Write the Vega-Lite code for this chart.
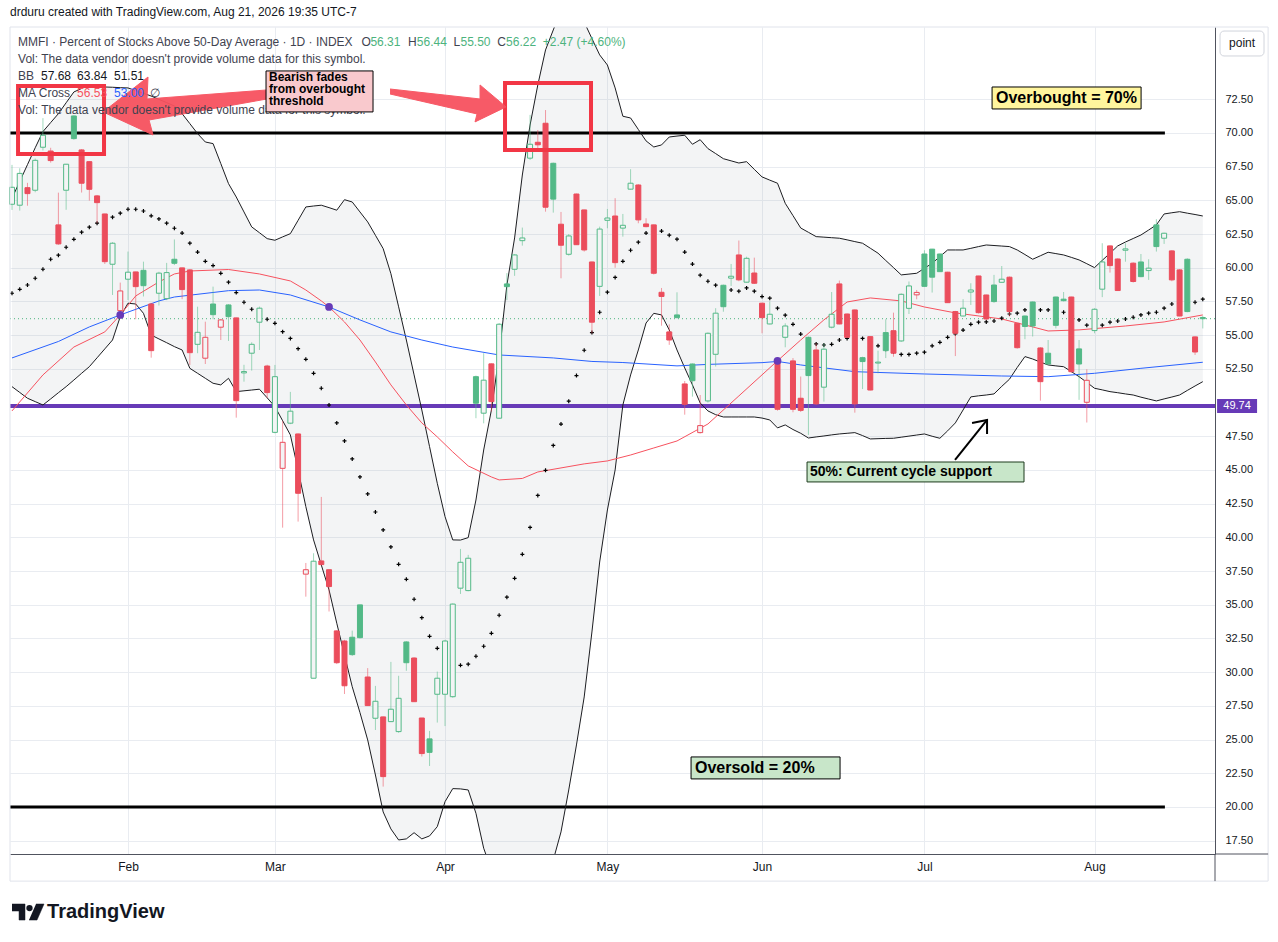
{
"$schema": "https://vega.github.io/schema/vega-lite/v6.json",
"width": 1205, "height": 827,
"autosize": {"type": "none"},
"padding": {"left": 10, "top": 27, "right": 63, "bottom": 88},
"background": "white",
"config": {"view": {"stroke": null}, "font": "Liberation Sans", "axis": {"titleOpacity": 0, "labelOverlap": false}, "scale": {"continuousPadding": 0}},
"title": {"text": "drduru created with TradingView.com, Aug 21, 2026 19:35 UTC-7", "anchor": "start", "frame": "group", "offset": 8, "fontSize": 12, "fontWeight": "normal", "color": "#131722", "font": "Liberation Sans"},
"datasets": {
"bars": [
{"i":0,"o":64.71,"h":67.63,"l":64.29,"c":65.97,"bbu":65.16,"bbm":58.11,"bbl":51.18},
{"i":1,"o":64.64,"h":67.38,"l":64.24,"c":67.0,"bbu":66.4,"bbm":58.4,"bbl":50.75},
{"i":2,"o":65.94,"h":66.3,"l":64.6,"c":65.5,"bbu":67.65,"bbm":58.72,"bbl":50.32},
{"i":3,"o":65.75,"h":68.1,"l":65.6,"c":67.97,"bbu":68.9,"bbm":59.22,"bbl":50.07},
{"i":4,"o":68.94,"h":71.1,"l":68.7,"c":69.83,"bbu":70.1,"bbm":59.89,"bbl":49.82},
{"i":5,"o":68.66,"h":68.9,"l":67.8,"c":67.95,"bbu":70.77,"bbm":60.63,"bbl":50.27},
{"i":6,"o":63.18,"h":65.57,"l":61.7,"c":61.77,"bbu":71.43,"bbm":60.93,"bbl":50.73},
{"i":7,"o":65.75,"h":67.7,"l":64.3,"c":67.68,"bbu":72.24,"bbm":61.52,"bbl":51.18},
{"i":8,"o":71.26,"h":71.3,"l":69.5,"c":69.58,"bbu":73.04,"bbm":62.11,"bbl":51.67},
{"i":9,"o":68.74,"h":68.8,"l":65.58,"c":66.27,"bbu":73.3,"bbm":62.64,"bbl":52.17},
{"i":10,"o":67.87,"h":67.9,"l":64.98,"c":65.82,"bbu":73.54,"bbm":63.01,"bbl":52.66},
{"i":11,"o":65.33,"h":65.4,"l":63.3,"c":64.83,"bbu":73.48,"bbm":63.31,"bbl":53.32},
{"i":12,"o":63.99,"h":64.0,"l":60.28,"c":60.45,"bbu":73.41,"bbm":63.55,"bbl":53.98},
{"i":13,"o":60.26,"h":61.9,"l":57.98,"c":61.82,"bbu":73.39,"bbm":63.75,"bbl":54.64},
{"i":14,"o":56.82,"h":58.9,"l":56.4,"c":58.28,"bbu":73.36,"bbm":64.05,"bbl":56.37},
{"i":15,"o":59.15,"h":61.2,"l":57.6,"c":59.67,"bbu":73.34,"bbm":64.34,"bbl":57.37},
{"i":16,"o":59.69,"h":59.7,"l":56.18,"c":58.6,"bbu":73.14,"bbm":64.34,"bbl":57.31},
{"i":17,"o":59.81,"h":60.45,"l":57.87,"c":58.67,"bbu":72.94,"bbm":64.21,"bbl":56.62},
{"i":18,"o":57.31,"h":57.4,"l":53.33,"c":53.85,"bbu":72.74,"bbm":63.85,"bbl":55.01},
{"i":19,"o":58.11,"h":59.7,"l":57.2,"c":59.6,"bbu":72.49,"bbm":63.62,"bbl":54.72},
{"i":20,"o":57.71,"h":60.36,"l":57.6,"c":59.64,"bbu":72.25,"bbm":63.31,"bbl":54.44},
{"i":21,"o":60.63,"h":62.1,"l":60.2,"c":60.33,"bbu":72.0,"bbm":62.93,"bbl":54.15},
{"i":22,"o":59.99,"h":60.0,"l":57.67,"c":58.38,"bbu":71.43,"bbm":62.57,"bbl":53.9},
{"i":23,"o":59.84,"h":59.9,"l":52.79,"c":53.7,"bbu":70.69,"bbm":61.82,"bbl":52.54},
{"i":24,"o":54.32,"h":57.11,"l":53.66,"c":55.21,"bbu":69.95,"bbm":61.16,"bbl":52.17},
{"i":25,"o":53.29,"h":56.0,"l":52.86,"c":54.84,"bbu":69.33,"bbm":60.48,"bbl":51.8},
{"i":26,"o":57.31,"h":58.6,"l":56.18,"c":56.52,"bbu":69.21,"bbm":60.16,"bbl":51.43},
{"i":27,"o":55.59,"h":56.2,"l":54.64,"c":56.13,"bbu":67.73,"bbm":59.59,"bbl":51.31},
{"i":28,"o":57.24,"h":57.3,"l":54.57,"c":56.37,"bbu":66.24,"bbm":58.93,"bbl":51.8},
{"i":29,"o":56.28,"h":56.3,"l":48.88,"c":50.14,"bbu":65.25,"bbm":58.16,"bbl":50.81},
{"i":30,"o":52.2,"h":52.8,"l":51.55,"c":52.3,"bbu":64.14,"bbm":57.44,"bbl":50.87},
{"i":31,"o":53.66,"h":54.47,"l":52.37,"c":54.32,"bbu":63.03,"bbm":56.92,"bbl":50.93},
{"i":32,"o":55.96,"h":57.12,"l":53.9,"c":57.0,"bbu":62.6,"bbm":56.77,"bbl":50.99},
{"i":33,"o":52.71,"h":52.8,"l":50.34,"c":50.74,"bbu":62.16,"bbm":56.18,"bbl":50.35},
{"i":34,"o":47.79,"h":52.79,"l":47.72,"c":51.92,"bbu":62.04,"bbm":55.88,"bbl":49.7},
{"i":35,"o":45.12,"h":48.64,"l":40.72,"c":47.05,"bbu":62.29,"bbm":55.26,"bbl":48.65},
{"i":36,"o":48.47,"h":50.79,"l":48.4,"c":49.36,"bbu":62.53,"bbm":54.76,"bbl":47.6},
{"i":37,"o":47.67,"h":47.7,"l":41.17,"c":43.27,"bbu":63.52,"bbm":54.0,"bbl":45.0},
{"i":38,"o":37.27,"h":38.1,"l":35.6,"c":37.6,"bbu":64.51,"bbm":53.21,"bbl":42.28},
{"i":39,"o":29.55,"h":38.82,"l":29.55,"c":38.23,"bbu":64.58,"bbm":52.17,"bbl":39.81},
{"i":40,"o":38.25,"h":43.0,"l":37.9,"c":37.98,"bbu":64.64,"bbm":51.06,"bbl":37.95},
{"i":41,"o":37.6,"h":37.6,"l":34.5,"c":36.35,"bbu":64.46,"bbm":49.82,"bbl":36.1},
{"i":42,"o":33.06,"h":33.1,"l":30.6,"c":30.7,"bbu":64.27,"bbm":48.49,"bbl":33.63},
{"i":43,"o":32.31,"h":32.4,"l":28.38,"c":28.99,"bbu":65.05,"bbm":47.15,"bbl":31.27},
{"i":44,"o":32.59,"h":33.08,"l":31.2,"c":31.3,"bbu":64.88,"bbm":45.82,"bbl":28.92},
{"i":45,"o":34.99,"h":35.0,"l":32.5,"c":32.56,"bbu":64.14,"bbm":44.48,"bbl":27.0},
{"i":46,"o":29.64,"h":30.3,"l":27.5,"c":27.52,"bbu":63.4,"bbm":43.22,"bbl":24.97},
{"i":47,"o":26.58,"h":28.98,"l":25.71,"c":27.84,"bbu":62.41,"bbm":41.88,"bbl":22.37},
{"i":48,"o":26.68,"h":26.7,"l":21.51,"c":22.25,"bbu":61.42,"bbm":40.55,"bbl":19.63},
{"i":49,"o":26.33,"h":30.76,"l":26.3,"c":27.25,"bbu":59.56,"bbm":39.29,"bbl":18.37},
{"i":50,"o":25.59,"h":29.73,"l":25.5,"c":28.06,"bbu":57.1,"bbm":38.0,"bbl":17.55},
{"i":51,"o":32.24,"h":32.3,"l":30.1,"c":30.7,"bbu":54.64,"bbm":36.89,"bbl":17.63},
{"i":52,"o":31.05,"h":31.1,"l":27.8,"c":27.81,"bbu":52.05,"bbm":35.41,"bbl":18.09},
{"i":53,"o":26.6,"h":26.6,"l":23.74,"c":23.96,"bbu":49.45,"bbm":34.04,"bbl":17.63},
{"i":54,"o":25.05,"h":25.64,"l":23.04,"c":24.05,"bbu":46.73,"bbm":32.66,"bbl":17.85},
{"i":55,"o":28.36,"h":30.04,"l":26.26,"c":29.55,"bbu":44.01,"bbm":31.77,"bbl":18.54},
{"i":56,"o":28.36,"h":32.4,"l":26.0,"c":32.31,"bbu":41.54,"bbm":30.98,"bbl":20.39},
{"i":57,"o":28.18,"h":35.1,"l":28.1,"c":35.05,"bbu":39.81,"bbm":30.51,"bbl":21.36},
{"i":58,"o":36.23,"h":39.14,"l":35.8,"c":38.15,"bbu":39.8,"bbm":30.51,"bbl":21.34},
{"i":59,"o":36.05,"h":38.7,"l":36.0,"c":38.45,"bbu":39.98,"bbm":30.59,"bbl":21.26},
{"i":60,"o":51.92,"h":52.0,"l":48.84,"c":49.95,"bbu":42.77,"bbm":31.18,"bbl":19.53},
{"i":61,"o":49.21,"h":53.66,"l":48.46,"c":51.66,"bbu":46.48,"bbm":31.92,"bbl":16.94},
{"i":62,"o":52.87,"h":52.9,"l":49.33,"c":50.07,"bbu":49.45,"bbm":32.88,"bbl":15.33},
{"i":63,"o":48.84,"h":55.9,"l":48.8,"c":55.81,"bbu":53.53,"bbm":34.22,"bbl":14.2},
{"i":64,"o":58.8,"h":59.6,"l":57.6,"c":58.6,"bbu":58.72,"bbm":35.56,"bbl":13.6},
{"i":65,"o":59.89,"h":61.0,"l":59.4,"c":60.95,"bbu":62.21,"bbm":36.96,"bbl":13.1},
{"i":66,"o":62.01,"h":62.98,"l":61.64,"c":62.21,"bbu":66.88,"bbm":38.74,"bbl":12.9},
{"i":67,"o":68.13,"h":71.34,"l":68.0,"c":69.16,"bbu":70.59,"bbm":40.74,"bbl":12.73},
{"i":68,"o":69.31,"h":70.22,"l":68.87,"c":69.12,"bbu":73.56,"bbm":43.11,"bbl":12.9},
{"i":69,"o":70.72,"h":71.7,"l":64.16,"c":64.49,"bbu":76.16,"bbm":44.97,"bbl":13.47},
{"i":70,"o":67.75,"h":67.8,"l":64.09,"c":65.09,"bbu":77.64,"bbm":46.82,"bbl":16.06},
{"i":71,"o":63.23,"h":64.14,"l":59.22,"c":61.67,"bbu":79.12,"bbm":48.4,"bbl":18.15},
{"i":72,"o":61.0,"h":62.5,"l":60.9,"c":62.36,"bbu":79.72,"bbm":50.1,"bbl":21.26},
{"i":73,"o":65.47,"h":65.5,"l":61.7,"c":61.71,"bbu":79.27,"bbm":52.0,"bbl":24.6},
{"i":74,"o":64.29,"h":64.3,"l":61.2,"c":61.32,"bbu":78.23,"bbm":53.88,"bbl":28.16},
{"i":75,"o":60.43,"h":60.45,"l":55.14,"c":55.96,"bbu":77.0,"bbm":55.19,"bbl":32.98},
{"i":76,"o":58.62,"h":63.05,"l":57.91,"c":62.87,"bbu":75.79,"bbm":56.7,"bbl":38.17},
{"i":77,"o":63.52,"h":64.36,"l":62.93,"c":63.69,"bbu":75.04,"bbm":58.19,"bbl":42.03},
{"i":78,"o":63.84,"h":65.16,"l":60.0,"c":60.38,"bbu":73.34,"bbm":59.28,"bbl":45.0},
{"i":79,"o":62.94,"h":63.99,"l":62.31,"c":63.15,"bbu":71.24,"bbm":60.48,"bbl":49.82},
{"i":80,"o":65.83,"h":67.31,"l":65.8,"c":66.27,"bbu":71.11,"bbm":61.3,"bbl":52.05},
{"i":81,"o":66.14,"h":66.2,"l":63.3,"c":63.55,"bbu":70.26,"bbm":61.9,"bbl":53.9},
{"i":82,"o":63.25,"h":63.67,"l":63.0,"c":63.05,"bbu":69.41,"bbm":62.57,"bbl":55.9},
{"i":83,"o":63.18,"h":63.2,"l":59.5,"c":59.59,"bbu":68.96,"bbm":62.7,"bbl":56.62},
{"i":84,"o":58.18,"h":58.5,"l":55.7,"c":57.87,"bbu":69.11,"bbm":62.72,"bbl":56.5},
{"i":85,"o":55.24,"h":55.8,"l":54.28,"c":54.64,"bbu":69.7,"bbm":62.42,"bbl":55.39},
{"i":86,"o":56.5,"h":58.18,"l":56.25,"c":56.3,"bbu":69.77,"bbm":62.12,"bbl":53.9},
{"i":87,"o":51.38,"h":51.6,"l":49.1,"c":49.87,"bbu":69.83,"bbm":61.16,"bbl":52.57},
{"i":88,"o":52.86,"h":52.9,"l":50.44,"c":51.62,"bbu":69.16,"bbm":60.27,"bbl":51.31},
{"i":89,"o":47.77,"h":50.56,"l":47.7,"c":48.29,"bbu":69.5,"bbm":59.45,"bbl":49.97},
{"i":90,"o":50.12,"h":55.2,"l":50.0,"c":55.14,"bbu":68.84,"bbm":59.0,"bbl":49.38},
{"i":91,"o":53.58,"h":57.0,"l":52.67,"c":56.63,"bbu":68.47,"bbm":58.71,"bbl":49.1},
{"i":92,"o":58.7,"h":58.75,"l":56.74,"c":57.11,"bbu":68.09,"bbm":58.5,"bbl":48.93},
{"i":93,"o":59.23,"h":60.28,"l":58.65,"c":59.37,"bbu":67.93,"bbm":58.35,"bbl":48.93},
{"i":94,"o":60.95,"h":62.02,"l":59.0,"c":59.1,"bbu":67.77,"bbm":58.26,"bbl":48.93},
{"i":95,"o":58.93,"h":60.82,"l":58.9,"c":60.7,"bbu":67.87,"bbm":58.5,"bbl":48.93},
{"i":96,"o":59.61,"h":60.75,"l":58.8,"c":58.85,"bbu":67.3,"bbm":58.26,"bbl":48.93},
{"i":97,"o":57.37,"h":57.4,"l":55.14,"c":56.3,"bbu":66.74,"bbm":57.86,"bbl":48.85},
{"i":98,"o":55.83,"h":57.5,"l":55.8,"c":56.55,"bbu":66.5,"bbm":57.74,"bbl":48.71},
{"i":99,"o":53.16,"h":53.2,"l":49.4,"c":49.5,"bbu":66.27,"bbm":57.0,"bbl":48.12},
{"i":100,"o":54.84,"h":55.88,"l":54.1,"c":55.68,"bbu":64.78,"bbm":56.48,"bbl":48.34},
{"i":101,"o":53.09,"h":53.3,"l":49.28,"c":49.5,"bbu":63.87,"bbm":55.8,"bbl":48.0},
{"i":102,"o":50.32,"h":51.93,"l":49.3,"c":49.42,"bbu":62.95,"bbm":55.08,"bbl":47.72},
{"i":103,"o":54.84,"h":54.9,"l":47.6,"c":52.0,"bbu":62.63,"bbm":54.7,"bbl":47.37},
{"i":104,"o":53.9,"h":54.4,"l":49.8,"c":49.9,"bbu":62.31,"bbm":54.35,"bbl":47.45},
{"i":105,"o":51.14,"h":54.4,"l":50.07,"c":53.96,"bbu":62.27,"bbm":54.27,"bbl":47.52},
{"i":106,"o":55.59,"h":58.2,"l":55.5,"c":56.55,"bbu":62.23,"bbm":54.32,"bbl":47.6},
{"i":107,"o":58.8,"h":59.05,"l":55.8,"c":55.83,"bbu":62.19,"bbm":54.64,"bbl":47.67},
{"i":108,"o":56.57,"h":56.6,"l":54.8,"c":54.84,"bbu":62.07,"bbm":54.76,"bbl":47.72},
{"i":109,"o":56.87,"h":56.9,"l":49.25,"c":49.9,"bbu":61.94,"bbm":54.78,"bbl":47.77},
{"i":110,"o":53.33,"h":53.4,"l":51.0,"c":53.04,"bbu":61.82,"bbm":54.76,"bbl":47.55},
{"i":111,"o":54.89,"h":54.9,"l":50.9,"c":50.93,"bbu":61.45,"bbm":54.5,"bbl":47.3},
{"i":112,"o":52.93,"h":53.85,"l":52.17,"c":53.0,"bbu":61.08,"bbm":54.21,"bbl":47.32},
{"i":113,"o":55.19,"h":56.18,"l":53.3,"c":53.85,"bbu":60.54,"bbm":53.95,"bbl":47.34},
{"i":114,"o":55.33,"h":56.67,"l":53.4,"c":53.66,"bbu":60.01,"bbm":53.75,"bbl":47.35},
{"i":115,"o":54.57,"h":58.1,"l":54.5,"c":58.03,"bbu":59.47,"bbm":53.57,"bbl":47.43},
{"i":116,"o":56.99,"h":58.98,"l":56.57,"c":58.65,"bbu":59.53,"bbm":53.57,"bbl":47.51},
{"i":117,"o":57.99,"h":58.35,"l":57.66,"c":58.17,"bbu":59.59,"bbm":53.66,"bbl":47.59},
{"i":118,"o":61.02,"h":61.3,"l":58.6,"c":58.62,"bbu":59.96,"bbm":53.74,"bbl":47.67},
{"i":119,"o":61.38,"h":61.4,"l":58.16,"c":59.3,"bbu":60.33,"bbm":54.21,"bbl":47.5},
{"i":120,"o":61.02,"h":61.05,"l":59.7,"c":59.71,"bbu":60.83,"bbm":54.47,"bbl":47.35},
{"i":121,"o":59.67,"h":59.7,"l":57.4,"c":57.41,"bbu":61.32,"bbm":54.84,"bbl":47.9},
{"i":122,"o":56.75,"h":56.8,"l":53.45,"c":55.14,"bbu":61.32,"bbm":55.1,"bbl":48.49},
{"i":123,"o":56.42,"h":57.67,"l":56.4,"c":57.0,"bbu":61.32,"bbm":55.38,"bbl":49.45},
{"i":124,"o":58.2,"h":58.85,"l":57.24,"c":58.35,"bbu":61.44,"bbm":55.8,"bbl":50.42},
{"i":125,"o":59.39,"h":59.4,"l":56.6,"c":56.67,"bbu":61.57,"bbm":55.96,"bbl":50.5},
{"i":126,"o":57.98,"h":58.0,"l":56.1,"c":56.2,"bbu":61.69,"bbm":55.98,"bbl":50.56},
{"i":127,"o":58.72,"h":59.47,"l":57.4,"c":57.49,"bbu":61.65,"bbm":56.05,"bbl":50.64},
{"i":128,"o":58.92,"h":60.13,"l":58.9,"c":59.15,"bbu":61.61,"bbm":56.26,"bbl":51.2},
{"i":129,"o":59.3,"h":59.35,"l":56.38,"c":56.75,"bbu":61.57,"bbm":56.57,"bbl":51.73},
{"i":130,"o":55.88,"h":55.9,"l":54.0,"c":54.07,"bbu":61.32,"bbm":56.63,"bbl":52.6},
{"i":131,"o":56.42,"h":56.45,"l":54.7,"c":55.64,"bbu":60.98,"bbm":56.87,"bbl":53.41},
{"i":132,"o":57.46,"h":57.5,"l":54.9,"c":55.68,"bbu":60.63,"bbm":56.87,"bbl":53.23},
{"i":133,"o":54.05,"h":54.1,"l":50.14,"c":51.55,"bbu":60.89,"bbm":56.87,"bbl":53.0},
{"i":134,"o":53.66,"h":54.64,"l":52.8,"c":52.86,"bbu":61.15,"bbm":56.87,"bbl":52.79},
{"i":135,"o":57.83,"h":57.85,"l":55.5,"c":55.73,"bbu":61.05,"bbm":56.8,"bbl":52.72},
{"i":136,"o":57.67,"h":58.2,"l":57.5,"c":57.56,"bbu":60.95,"bbm":56.7,"bbl":52.66},
{"i":137,"o":57.83,"h":57.85,"l":52.2,"c":52.29,"bbu":60.77,"bbm":56.45,"bbl":52.3},
{"i":138,"o":53.98,"h":54.64,"l":50.2,"c":52.86,"bbu":60.58,"bbm":56.13,"bbl":51.92},
{"i":139,"o":50.02,"h":52.47,"l":48.52,"c":51.65,"bbu":60.3,"bbm":55.74,"bbl":51.5},
{"i":140,"o":55.34,"h":57.0,"l":55.14,"c":56.92,"bbu":60.01,"bbm":55.59,"bbl":51.06},
{"i":141,"o":58.41,"h":61.82,"l":57.82,"c":60.43,"bbu":60.55,"bbm":55.74,"bbl":50.94},
{"i":142,"o":61.62,"h":61.65,"l":59.64,"c":60.16,"bbu":61.08,"bbm":55.96,"bbl":50.81},
{"i":143,"o":60.65,"h":60.7,"l":58.3,"c":58.31,"bbu":61.62,"bbm":56.05,"bbl":50.73},
{"i":144,"o":61.3,"h":61.82,"l":60.45,"c":61.4,"bbu":61.91,"bbm":56.2,"bbl":50.64},
{"i":145,"o":60.34,"h":60.4,"l":58.9,"c":58.98,"bbu":62.17,"bbm":56.33,"bbl":50.56},
{"i":146,"o":60.43,"h":61.02,"l":59.3,"c":59.34,"bbu":62.43,"bbm":56.5,"bbl":50.4},
{"i":147,"o":59.79,"h":60.63,"l":59.1,"c":59.97,"bbu":62.8,"bbm":56.63,"bbl":50.26},
{"i":148,"o":63.18,"h":63.6,"l":61.2,"c":61.57,"bbu":63.18,"bbm":56.7,"bbl":50.12},
{"i":149,"o":62.19,"h":62.6,"l":61.77,"c":62.56,"bbu":63.99,"bbm":57.0,"bbl":50.27},
{"i":150,"o":61.25,"h":61.3,"l":59.0,"c":59.1,"bbu":64.08,"bbm":57.31,"bbl":50.41},
{"i":151,"o":59.84,"h":59.9,"l":56.4,"c":56.42,"bbu":64.16,"bbm":57.38,"bbl":50.56},
{"i":152,"o":60.63,"h":60.7,"l":56.7,"c":56.75,"bbu":64.05,"bbm":57.42,"bbl":50.9},
{"i":153,"o":54.87,"h":54.9,"l":53.53,"c":53.75,"bbu":63.95,"bbm":57.44,"bbl":51.23},
{"i":154,"o":56.31,"h":56.44,"l":55.5,"c":56.22,"bbu":63.84,"bbm":57.67,"bbl":51.55}
],
"fast": [
{"i":0,"v":49.38},{"i":4,"v":52.05},{"i":8,"v":54.12},{"i":12,"v":55.24},{"i":14,"v":56.5},{"i":16,"v":57.91},{"i":19,"v":58.95},{"i":21,"v":59.54},{"i":23,"v":59.76},{"i":28,"v":59.87},{"i":32,"v":59.54},{"i":36,"v":59.02},{"i":38,"v":58.35},{"i":40,"v":57.54},{"i":41,"v":57.09},{"i":43,"v":55.98},{"i":45,"v":54.64},{"i":47,"v":53.01},{"i":49,"v":51.31},{"i":51,"v":49.82},{"i":53,"v":48.49},{"i":55,"v":47.45},{"i":57,"v":46.34},{"i":59,"v":45.3},{"i":62,"v":44.48},{"i":63,"v":44.26},{"i":66,"v":44.37},{"i":68,"v":44.85},{"i":71,"v":45.15},{"i":74,"v":45.45},{"i":77,"v":45.67},{"i":80,"v":46.11},{"i":83,"v":46.63},{"i":86,"v":47.15},{"i":90,"v":48.41},{"i":94,"v":50.49},{"i":99,"v":53.1},{"i":102,"v":54.64},{"i":105,"v":56.13},{"i":108,"v":57.46},{"i":111,"v":57.76},{"i":115,"v":57.54},{"i":118,"v":57.09},{"i":122,"v":56.65},{"i":128,"v":56.2},{"i":131,"v":55.76},{"i":134,"v":55.31},{"i":138,"v":55.39},{"i":144,"v":55.68},{"i":149,"v":55.98},{"i":154,"v":56.5}
],
"slow": [
{"i":0,"v":53.31},{"i":6,"v":54.53},{"i":10,"v":55.61},{"i":14,"v":56.5},{"i":19,"v":57.54},{"i":21,"v":57.83},{"i":28,"v":58.3},{"i":32,"v":58.35},{"i":36,"v":57.98},{"i":41,"v":57.09},{"i":45,"v":56.13},{"i":49,"v":55.24},{"i":53,"v":54.64},{"i":57,"v":54.12},{"i":63,"v":53.53},{"i":70,"v":53.31},{"i":75,"v":53.05},{"i":79,"v":52.97},{"i":86,"v":52.72},{"i":90,"v":52.83},{"i":97,"v":52.96},{"i":99,"v":53.05},{"i":102,"v":52.79},{"i":109,"v":52.29},{"i":118,"v":52.12},{"i":128,"v":51.97},{"i":134,"v":51.92},{"i":140,"v":52.17},{"i":146,"v":52.54},{"i":154,"v":52.99}
],
"cross": [{"i":14,"v":56.5},{"i":41,"v":57.09},{"i":99,"v":53.1}],
"arrows": [
{"a":1,"k":1,"x":32.98,"y":73.19},{"a":1,"k":2,"x":17.46,"y":72.52},{"a":1,"k":3,"x":17.59,"y":74.15},{"a":1,"k":4,"x":11.77,"y":71.56},{"a":1,"k":5,"x":18.24,"y":69.85},{"a":1,"k":6,"x":17.72,"y":70.96},{"a":1,"k":7,"x":32.98,"y":72.52},
{"a":2,"k":1,"x":48.89,"y":73.26},{"a":2,"k":2,"x":60.53,"y":72.52},{"a":2,"k":3,"x":60.53,"y":73.56},{"a":2,"k":4,"x":63.89,"y":71.93},{"a":2,"k":5,"x":59.88,"y":70.82},{"a":2,"k":6,"x":60.14,"y":71.41},{"a":2,"k":7,"x":48.89,"y":72.89}
],
"pointer": [
{"s":1,"k":1,"x":121.96,"y":45.74},{"s":1,"k":2,"x":126.1,"y":48.71},
{"s":2,"k":1,"x":124.16,"y":48.49},{"s":2,"k":2,"x":126.1,"y":48.71},{"s":2,"k":3,"x":126.1,"y":47.67}
],
"logo": [
{"p":1,"k":1,"x":0.0,"y":12.8},{"p":1,"k":2,"x":1.68,"y":12.8},{"p":1,"k":3,"x":1.68,"y":11.61},{"p":1,"k":4,"x":0.91,"y":11.61},{"p":1,"k":5,"x":0.91,"y":12.28},{"p":1,"k":6,"x":0.0,"y":12.28},
{"p":2,"k":1,"x":3.1,"y":12.8},{"p":2,"k":2,"x":4.14,"y":12.8},{"p":2,"k":3,"x":3.23,"y":11.61},{"p":2,"k":4,"x":2.2,"y":11.61}
]
},
"layer": [
{"data": {"name": "bars"},
 "mark": {"type": "area", "clip": true, "color": "#8a8f99", "opacity": 0.1},
 "encoding": {
  "x": {"field": "i", "type": "quantitative", "scale": {"domain": [-0.26, 155.58], "nice": false, "zero": false, "padding": 0},
        "axis": {"title": null, "values": [15,34,56,77,97,118,140], "tickCount": 50, "labelExpr": "datum.value == 15 ? 'Feb' : datum.value == 34 ? 'Mar' : datum.value == 56 ? 'Apr' : datum.value == 77 ? 'May' : datum.value == 97 ? 'Jun' : datum.value == 118 ? 'Jul' : 'Aug'", "ticks": false, "labelPadding": 7, "labelFontSize": 12, "labelColor": "#131722", "grid": true, "gridColor": "#e9ecf1", "domainColor": "#50535e", "labelFlush": false, "labelOverlap": false}},
  "y": {"field": "bbu", "type": "quantitative", "scale": {"domain": [16.51, 77.86], "nice": false, "zero": false, "padding": 0},
        "axis": {"title": null, "orient": "right", "values": [17.5,20,22.5,25,27.5,30,32.5,35,37.5,40,42.5,45,47.5,52.5,55,57.5,60,62.5,65,67.5,70,72.5], "tickCount": 50, "format": ".2f", "ticks": false, "labelPadding": 10, "labelFontSize": 11, "labelColor": "#131722", "grid": true, "gridColor": "#e9ecf1", "domainColor": "#50535e", "labelOverlap": false}},
  "y2": {"field": "bbl"}
 }},
{"data": {"values": [{}]}, "mark": {"type": "rule", "color": "#000000", "strokeWidth": 3},
 "encoding": {"x": {"datum": -0.26, "type": "quantitative"}, "x2": {"datum": 149.1}, "y": {"datum": 70, "type": "quantitative"}}},
{"data": {"values": [{}]}, "mark": {"type": "rule", "color": "#000000", "strokeWidth": 3},
 "encoding": {"x": {"datum": -0.26, "type": "quantitative"}, "x2": {"datum": 149.1}, "y": {"datum": 20, "type": "quantitative"}}},
{"data": {"values": [{}]}, "mark": {"type": "rule", "color": "#4db37e", "strokeWidth": 1, "strokeDash": [1, 3]},
 "encoding": {"y": {"datum": 56.22, "type": "quantitative"}}},
{"data": {"values": [{}]}, "mark": {"type": "rule", "color": "#673ab7", "strokeWidth": 4},
 "encoding": {"y": {"datum": 49.74, "type": "quantitative"}}},
{"data": {"name": "bars"}, "mark": {"type": "line", "clip": true, "color": "#1c1d21", "strokeWidth": 1},
 "encoding": {"x": {"field": "i", "type": "quantitative"}, "y": {"field": "bbu", "type": "quantitative"}}},
{"data": {"name": "bars"}, "mark": {"type": "line", "clip": true, "color": "#1c1d21", "strokeWidth": 1},
 "encoding": {"x": {"field": "i", "type": "quantitative"}, "y": {"field": "bbl", "type": "quantitative"}}},
{"data": {"name": "fast"}, "mark": {"type": "line", "color": "#f7525f", "strokeWidth": 1},
 "encoding": {"x": {"field": "i", "type": "quantitative"}, "y": {"field": "v", "type": "quantitative"}}},
{"data": {"name": "slow"}, "mark": {"type": "line", "color": "#2962ff", "strokeWidth": 1},
 "encoding": {"x": {"field": "i", "type": "quantitative"}, "y": {"field": "v", "type": "quantitative"}}},
{"data": {"name": "bars"}, "mark": {"type": "point", "shape": "M-1,0L1,0M0,-1L0,1", "size": 16, "filled": false, "stroke": "#000000", "strokeWidth": 1.2, "opacity": 1},
 "encoding": {"x": {"field": "i", "type": "quantitative"}, "y": {"field": "bbm", "type": "quantitative"}}},
{"data": {"name": "bars"},
 "transform": [{"window": [{"op": "lag", "field": "c", "as": "pc"}], "sort": [{"field": "i"}]}],
 "layer": [
  {"mark": {"type": "rule", "strokeWidth": 1, "opacity": 0.55},
   "encoding": {"x": {"field": "i", "type": "quantitative"}, "y": {"field": "l", "type": "quantitative"}, "y2": {"field": "h"},
    "color": {"condition": {"test": "datum.pc == null || datum.c >= datum.pc", "value": "#53b987"}, "value": "#eb4d5c"}}},
  {"mark": {"type": "bar", "width": 5, "orient": "vertical", "strokeWidth": 1},
   "encoding": {"x": {"field": "i", "type": "quantitative"}, "y": {"field": "o", "type": "quantitative"}, "y2": {"field": "c"},
    "stroke": {"condition": {"test": "datum.pc == null || datum.c >= datum.pc", "value": "#53b987"}, "value": "#eb4d5c"},
    "fill": {"condition": [{"test": "datum.c > datum.o", "value": "#f3f4f5"}, {"test": "datum.pc == null || datum.c >= datum.pc", "value": "#53b987"}], "value": "#eb4d5c"}}}
 ]},
{"data": {"name": "cross"}, "mark": {"type": "circle", "size": 60, "color": "#673ab7", "opacity": 1},
 "encoding": {"x": {"field": "i", "type": "quantitative"}, "y": {"field": "v", "type": "quantitative"}}},
{"data": {"values": [{}]}, "mark": {"type": "rect", "fill": null, "fillOpacity": 0, "stroke": "#f23645", "strokeWidth": 4},
 "encoding": {"x": {"datum": 0.78, "type": "quantitative"}, "x2": {"datum": 11.9}, "y": {"datum": 73.49, "type": "quantitative"}, "y2": {"datum": 68.44}}},
{"data": {"values": [{}]}, "mark": {"type": "rect", "fill": null, "fillOpacity": 0, "stroke": "#f23645", "strokeWidth": 4},
 "encoding": {"x": {"datum": 63.76, "type": "quantitative"}, "x2": {"datum": 74.88}, "y": {"datum": 73.71, "type": "quantitative"}, "y2": {"datum": 68.74}}},
{"data": {"name": "arrows"}, "mark": {"type": "line", "fill": "#f7525f", "stroke": "#f7525f", "strokeWidth": 1, "opacity": 0.95},
 "encoding": {"x": {"field": "x", "type": "quantitative"}, "y": {"field": "y", "type": "quantitative"}, "order": {"field": "k"}, "detail": {"field": "a"}}},
{"data": {"name": "pointer"}, "mark": {"type": "line", "color": "#000000", "strokeWidth": 2},
 "encoding": {"x": {"field": "x", "type": "quantitative"}, "y": {"field": "y", "type": "quantitative"}, "order": {"field": "k"}, "detail": {"field": "s"}}},
{"data": {"values": [{}]}, "mark": {"type": "text", "align": "left", "baseline": "middle", "fontSize": 12, "color": "#3f4350"},
 "encoding": {"x": {"datum": 0.78, "type": "quantitative"}, "y": {"datum": 76.75, "type": "quantitative"}, "text": {"value": "MMFI · Percent of Stocks Above 50-Day Average · 1D · INDEX"}}},
{"data": {"values": [{"t": "O", "p": 45.2, "g": "k"}, {"t": "56.31", "p": 46.35, "g": "v"}, {"t": "H", "p": 51.2, "g": "k"}, {"t": "56.44", "p": 52.35, "g": "v"}, {"t": "L", "p": 57.1, "g": "k"}, {"t": "55.50", "p": 58.0, "g": "v"}, {"t": "C", "p": 62.75, "g": "k"}, {"t": "56.22", "p": 63.9, "g": "v"}, {"t": "+2.47 (+4.60%)", "p": 68.65, "g": "v"}]},
 "mark": {"type": "text", "align": "left", "baseline": "middle", "fontSize": 12},
 "encoding": {"x": {"field": "p", "type": "quantitative"}, "y": {"datum": 76.75, "type": "quantitative"}, "text": {"field": "t"},
  "color": {"condition": {"test": "datum.g == 'v'", "value": "#4db37e"}, "value": "#3f4350"}}},
{"data": {"values": [{}]}, "mark": {"type": "text", "align": "left", "baseline": "middle", "fontSize": 12, "color": "#3f4350"},
 "encoding": {"x": {"datum": 0.78, "type": "quantitative"}, "y": {"datum": 75.49, "type": "quantitative"}, "text": {"value": "Vol: The data vendor doesn't provide volume data for this symbol."}}},
{"data": {"values": [{"t": "BB", "p": 0.78, "g": "k"}, {"t": "57.68", "p": 3.75, "g": "b"}, {"t": "63.84", "p": 8.41, "g": "b"}, {"t": "51.51", "p": 13.19, "g": "b"}]},
 "mark": {"type": "text", "align": "left", "baseline": "middle", "fontSize": 12},
 "encoding": {"x": {"field": "p", "type": "quantitative"}, "y": {"datum": 74.23, "type": "quantitative"}, "text": {"field": "t"},
  "color": {"condition": {"test": "datum.g == 'b'", "value": "#131722"}, "value": "#3f4350"}}},
{"data": {"values": [{"t": "MA Cross", "p": 0.78, "g": "k"}, {"t": "56.53", "p": 8.41, "g": "r"}, {"t": "53.00", "p": 13.19, "g": "u"}, {"t": "∅", "p": 17.85, "g": "k"}]},
 "mark": {"type": "text", "align": "left", "baseline": "middle", "fontSize": 12},
 "encoding": {"x": {"field": "p", "type": "quantitative"}, "y": {"datum": 72.97, "type": "quantitative"}, "text": {"field": "t"},
  "color": {"condition": [{"test": "datum.g == 'r'", "value": "#f7525f"}, {"test": "datum.g == 'u'", "value": "#2962ff"}], "value": "#3f4350"}}},
{"data": {"values": [{}]}, "mark": {"type": "text", "align": "left", "baseline": "middle", "fontSize": 12, "color": "#3f4350"},
 "encoding": {"x": {"datum": 0.78, "type": "quantitative"}, "y": {"datum": 71.71, "type": "quantitative"}, "text": {"value": "Vol: The data vendor doesn't provide volume data for this symbol."}}},
{"data": {"values": [{}]}, "mark": {"type": "rect", "fill": "#f9c9cd", "stroke": "#000000", "strokeWidth": 1},
 "encoding": {"x": {"datum": 32.85, "type": "quantitative"}, "x2": {"datum": 46.69}, "y": {"datum": 74.6, "type": "quantitative"}, "y2": {"datum": 71.56}}},
{"data": {"values": [{}]}, "mark": {"type": "text", "align": "left", "baseline": "top", "fontSize": 12, "fontWeight": "bold", "lineHeight": 12, "color": "#000000"},
 "encoding": {"x": {"datum": 33.24, "type": "quantitative"}, "y": {"datum": 74.5, "type": "quantitative"}, "text": {"value": ["Bearish fades", "from overbought", "threshold"]}}},
{"data": {"values": [{}]}, "mark": {"type": "rect", "fill": "#fff59d", "stroke": "#000000", "strokeWidth": 1},
 "encoding": {"x": {"datum": 126.75, "type": "quantitative"}, "x2": {"datum": 146.02}, "y": {"datum": 73.41, "type": "quantitative"}, "y2": {"datum": 71.78}}},
{"data": {"values": [{}]}, "mark": {"type": "text", "align": "left", "baseline": "middle", "fontSize": 16, "fontWeight": "bold", "color": "#000000"},
 "encoding": {"x": {"datum": 127.26, "type": "quantitative"}, "y": {"datum": 72.6, "type": "quantitative"}, "text": {"value": "Overbought = 70%"}}},
{"data": {"values": [{}]}, "mark": {"type": "rect", "fill": "#c8e6c9", "stroke": "#000000", "strokeWidth": 1},
 "encoding": {"x": {"datum": 87.82, "type": "quantitative"}, "x2": {"datum": 107.09}, "y": {"datum": 23.71, "type": "quantitative"}, "y2": {"datum": 22.08}}},
{"data": {"values": [{}]}, "mark": {"type": "text", "align": "left", "baseline": "middle", "fontSize": 16, "fontWeight": "bold", "color": "#000000"},
 "encoding": {"x": {"datum": 88.33, "type": "quantitative"}, "y": {"datum": 22.89, "type": "quantitative"}, "text": {"value": "Oversold = 20%"}}},
{"data": {"values": [{}]}, "mark": {"type": "rect", "fill": "#c8e6c9", "stroke": "#1c3a1c", "strokeWidth": 1},
 "encoding": {"x": {"datum": 102.82, "type": "quantitative"}, "x2": {"datum": 130.88}, "y": {"datum": 45.59, "type": "quantitative"}, "y2": {"datum": 44.11}}},
{"data": {"values": [{}]}, "mark": {"type": "text", "align": "left", "baseline": "middle", "fontSize": 14, "fontWeight": "bold", "color": "#000000"},
 "encoding": {"x": {"datum": 103.2, "type": "quantitative"}, "y": {"datum": 44.85, "type": "quantitative"}, "text": {"value": "50%: Current cycle support"}}},
{"data": {"values": [{}]}, "mark": {"type": "rect", "fill": "#673ab7"},
 "encoding": {"x": {"datum": 155.85, "type": "quantitative"}, "x2": {"datum": 161.02}, "y": {"datum": 50.27, "type": "quantitative"}, "y2": {"datum": 49.23}}},
{"data": {"values": [{}]}, "mark": {"type": "text", "align": "center", "baseline": "middle", "fontSize": 11, "color": "#ffffff"},
 "encoding": {"x": {"datum": 158.43, "type": "quantitative"}, "y": {"datum": 49.74, "type": "quantitative"}, "text": {"value": "49.74"}}},
{"data": {"values": [{}]}, "mark": {"type": "rect", "fill": null, "fillOpacity": 0, "stroke": "#d1d4dc", "strokeWidth": 1, "cornerRadius": 4},
 "encoding": {"x": {"datum": 156.23, "type": "quantitative"}, "x2": {"datum": 161.92}, "y": {"datum": 77.56, "type": "quantitative"}, "y2": {"datum": 75.71}}},
{"data": {"values": [{}]}, "mark": {"type": "text", "align": "center", "baseline": "middle", "fontSize": 12, "color": "#131722"},
 "encoding": {"x": {"datum": 159.08, "type": "quantitative"}, "y": {"datum": 76.68, "type": "quantitative"}, "text": {"value": "point"}}},
{"data": {"values": [{}]}, "mark": {"type": "rect", "fill": null, "fillOpacity": 0, "stroke": "#e0e3eb", "strokeWidth": 1},
 "encoding": {"x": {"datum": -0.26, "type": "quantitative"}, "x2": {"datum": 162.45}, "y": {"datum": 77.86, "type": "quantitative"}, "y2": {"datum": 14.5}}},
{"data": {"values": [{}]}, "mark": {"type": "rule", "color": "#50535e", "strokeWidth": 1},
 "encoding": {"x": {"datum": 155.58, "type": "quantitative"}, "y": {"datum": 16.51, "type": "quantitative"}, "y2": {"datum": 14.5}}},
{"data": {"values": [{}]}, "mark": {"type": "rule", "color": "#50535e", "strokeWidth": 1},
 "encoding": {"x": {"datum": 155.58, "type": "quantitative"}, "x2": {"datum": 162.45}, "y": {"datum": 16.51, "type": "quantitative"}}},
{"data": {"name": "logo"}, "mark": {"type": "line", "fill": "#131722", "stroke": "#131722", "strokeWidth": 0.5},
 "encoding": {"x": {"field": "x", "type": "quantitative"}, "y": {"field": "y", "type": "quantitative"}, "order": {"field": "k"}, "detail": {"field": "p"}}},
{"data": {"values": [{}]}, "mark": {"type": "circle", "size": 40, "color": "#131722", "opacity": 1},
 "encoding": {"x": {"datum": 2.26, "type": "quantitative"}, "y": {"datum": 12.5, "type": "quantitative"}}},
{"data": {"values": [{}]}, "mark": {"type": "text", "align": "left", "baseline": "middle", "fontSize": 20, "fontWeight": "bold", "color": "#131722"},
 "encoding": {"x": {"datum": 4.53, "type": "quantitative"}, "y": {"datum": 12.21, "type": "quantitative"}, "text": {"value": "TradingView"}}}
]
}
